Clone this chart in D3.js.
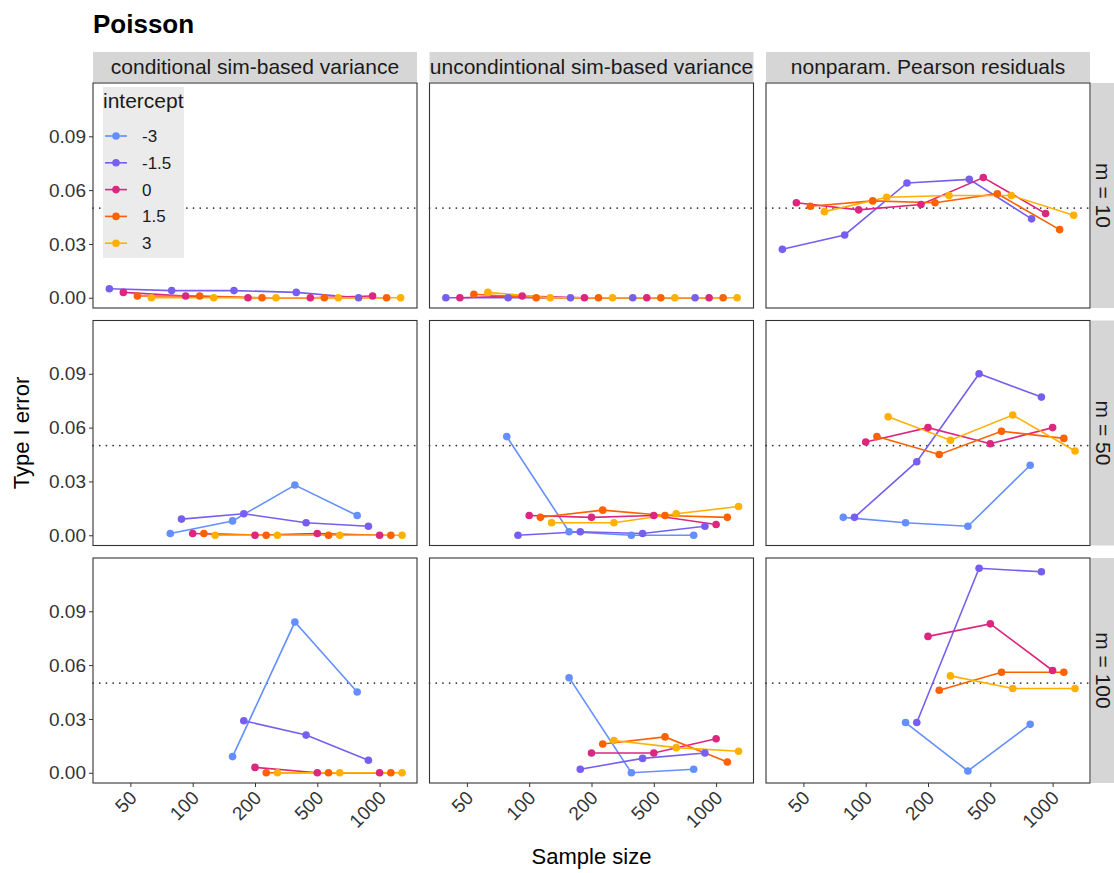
<!DOCTYPE html>
<html>
<head>
<meta charset="utf-8">
<script src="https://cdn.jsdelivr.net/npm/d3@7"></script>
<style>
  body { margin: 0; background: #fff; }
  svg text { font-family: "Liberation Sans", Arial, Helvetica, sans-serif; }
</style>
</head>
<body>
<svg id="chart"></svg>
<script>
// ---- data ----
var sampleSizes = [50, 100, 200, 500, 1000];
var intercepts = ["-3", "-1.5", "0", "1.5", "3"];
var methods = ["conditional sim-based variance", "uncondintional sim-based variance", "nonparam. Pearson residuals"];
var mLabels = ["m = 10", "m = 50", "m = 100"];
var yTicks = [0, 0.03, 0.06, 0.09];
var nominalLevel = 0.05;

// one row per intercept (-3 .. 3), one column per sample size; null = no result
var condM10 = [
  [null, null, null, null, null],
  [0.005, 0.004, 0.004, 0.003, 0],
  [0.003, 0.001, 0, 0, 0.001],
  [0.001, 0.001, 0, 0, 0],
  [0, 0, 0, 0, 0]];
var uncondM10 = [
  [null, null, null, null, null],
  [0, 0, 0, 0, 0],
  [0, 0.001, 0, 0, 0],
  [0.002, 0, 0, 0, 0],
  [0.003, 0, 0, 0, 0]];
var pearsonM10 = [
  [null, null, null, null, null],
  [0.027, 0.035, 0.064, 0.066, 0.044],
  [0.053, 0.049, 0.052, 0.067, 0.047],
  [0.051, 0.054, 0.053, 0.058, 0.038],
  [0.048, 0.056, 0.057, 0.057, 0.046]];
var condM50 = [
  [null, 0.001, 0.008, 0.028, 0.011],
  [null, 0.009, 0.012, 0.007, 0.005],
  [null, 0.001, 0, 0.001, 0],
  [null, 0.001, 0, 0, 0],
  [null, 0, 0, 0, 0]];
var uncondM50 = [
  [null, 0.055, 0.002, 0, 0],
  [null, 0, 0.002, 0.001, 0.005],
  [null, 0.011, 0.010, 0.011, 0.006],
  [null, 0.010, 0.014, 0.011, 0.010],
  [null, 0.007, 0.007, 0.012, 0.016]];
var pearsonM50 = [
  [null, 0.010, 0.007, 0.005, 0.039],
  [null, 0.010, 0.041, 0.090, 0.077],
  [null, 0.052, 0.060, 0.051, 0.060],
  [null, 0.055, 0.045, 0.058, 0.054],
  [null, 0.066, 0.053, 0.067, 0.047]];
var condM100 = [
  [null, null, 0.009, 0.084, 0.045],
  [null, null, 0.029, 0.021, 0.007],
  [null, null, 0.003, 0, 0],
  [null, null, 0, 0, 0],
  [null, null, 0, 0, 0]];
var uncondM100 = [
  [null, null, 0.053, 0, 0.002],
  [null, null, 0.002, 0.008, 0.011],
  [null, null, 0.011, 0.011, 0.019],
  [null, null, 0.016, 0.020, 0.006],
  [null, null, 0.018, 0.014, 0.012]];
var pearsonM100 = [
  [null, null, 0.028, 0.001, 0.027],
  [null, null, 0.028, 0.114, 0.112],
  [null, null, 0.076, 0.083, 0.057],
  [null, null, 0.046, 0.056, 0.056],
  [null, null, 0.054, 0.047, 0.047]];

var panelData = [
  [condM10, uncondM10, pearsonM10],
  [condM50, uncondM50, pearsonM50],
  [condM100, uncondM100, pearsonM100]];

var colors = ["#648FFF", "#785EF0", "#DC267F", "#FE6100", "#FFB000"];

// ---- layout ----
var W = 1114, H = 873;
var panelW = 324, panelH = 225;
var panelX = [93, 429.5, 766];
var panelY = [83, 320.5, 558];
var stripH = 30, stripW = 26;
var textCol = "#1a1a1a", axisCol = "#333333";
var fontStack = "\"Liberation Sans\", Arial, sans-serif";

var svg = d3.select("#chart").attr("width", W).attr("height", H);

var x = d3.scalePoint().domain(sampleSizes).range([0, panelW]).padding(0.6);
var step = x.step();

var allVals = panelData.flat(3).filter(function(v){ return v != null; });
var yMax = d3.max(allVals), pad = yMax * 0.05;
var y = d3.scaleLinear().domain([-pad, yMax + pad]).range([panelH, 0]);

// title
svg.append("text")
  .attr("x", 93).attr("y", 33)
  .attr("font-size", 26).attr("font-weight", "bold").attr("fill", "#000")
  .text("Poisson");

// column strips
methods.forEach(function(m, c){
  var g = svg.append("g").attr("transform", "translate(" + panelX[c] + "," + (panelY[0] - stripH - 1) + ")");
  g.append("rect").attr("width", panelW).attr("height", stripH).attr("fill", "#d6d6d6");
  g.append("text").attr("x", panelW / 2).attr("y", stripH / 2 + 7)
    .attr("text-anchor", "middle").attr("font-size", 21).attr("fill", textCol).text(m);
});

// row strips
mLabels.forEach(function(m, r){
  var g = svg.append("g").attr("transform", "translate(" + (panelX[2] + panelW + 1) + "," + panelY[r] + ")");
  g.append("rect").attr("width", stripW + 10).attr("height", panelH).attr("fill", "#d6d6d6");
  g.append("text")
    .attr("transform", "translate(" + 5 + "," + (panelH / 2) + ") rotate(90)")
    .attr("text-anchor", "middle").attr("font-size", 21).attr("fill", textCol).text(m);
});

var line = d3.line()
  .x(function(d){ return d.x; })
  .y(function(d){ return y(d.v); });

panelData.forEach(function(rowData, r){
  rowData.forEach(function(vals, c){
    var g = svg.append("g").attr("transform", "translate(" + panelX[c] + "," + panelY[r] + ")");
    g.append("rect").attr("width", panelW).attr("height", panelH).attr("fill", "#fff");

    // dodge the series that are present in this panel
    var present = d3.range(intercepts.length).filter(function(i){
      return vals[i].some(function(v){ return v != null; });
    });
    var n = present.length;

    var series = present.map(function(i, rank){
      var off = step * 0.9 * ((rank + 0.5) / n - 0.5);
      return {
        i: i,
        pts: sampleSizes.map(function(s, j){ return {x: x(s) + off, v: vals[i][j]}; })
          .filter(function(p){ return p.v != null; })
      };
    });

    g.append("line")
      .attr("x1", 0).attr("x2", panelW)
      .attr("y1", y(nominalLevel)).attr("y2", y(nominalLevel))
      .attr("stroke", "#333").attr("stroke-width", 1.7)
      .attr("stroke-dasharray", "0.1,6.6").attr("stroke-linecap", "round");

    g.selectAll(".ln").data(series).enter().append("path")
      .attr("class", "ln")
      .attr("d", function(d){ return line(d.pts); })
      .attr("fill", "none")
      .attr("stroke", function(d){ return colors[d.i]; })
      .attr("stroke-width", 1.6);

    series.forEach(function(s){
      g.selectAll(null).data(s.pts).enter()
        .append("circle")
        .attr("cx", function(p){ return p.x; })
        .attr("cy", function(p){ return y(p.v); })
        .attr("r", 3.8)
        .attr("fill", colors[s.i]);
    });

    g.append("rect").attr("width", panelW).attr("height", panelH)
      .attr("fill", "none").attr("stroke", axisCol).attr("stroke-width", 1.1);

    if (c === 0) {
      var ya = g.append("g").call(d3.axisLeft(y).tickValues(yTicks).tickFormat(d3.format(".2f")).tickSize(4).tickPadding(3));
      ya.select(".domain").remove();
      ya.selectAll("line").attr("stroke", axisCol);
      ya.selectAll("text").attr("font-size", 19).attr("fill", "#333")
        .style("font-family", fontStack);
    }
    if (r === 2) {
      var xa = g.append("g").attr("transform", "translate(0," + panelH + ")")
        .call(d3.axisBottom(x).tickSize(4).tickPadding(3));
      xa.select(".domain").remove();
      xa.selectAll("line").attr("stroke", axisCol);
      xa.selectAll("text").attr("font-size", 19).attr("fill", "#333")
        .style("font-family", fontStack)
        .attr("text-anchor", "end")
        .attr("dy", null).attr("y", 0)
        .attr("transform", "translate(7,16) rotate(-45)");
    }
  });
});

// axis titles
svg.append("text")
  .attr("x", panelX[0] + (panelX[2] + panelW - panelX[0]) / 2).attr("y", 864)
  .attr("text-anchor", "middle").attr("font-size", 22).attr("fill", "#000").text("Sample size");
svg.append("text")
  .attr("transform", "translate(29," + (panelY[0] + (panelY[2] + panelH - panelY[0]) / 2) + ") rotate(-90)")
  .attr("text-anchor", "middle").attr("font-size", 22).attr("fill", "#000").text("Type I error");

// legend inside first panel
var leg = svg.append("g").attr("transform", "translate(" + (panelX[0] + 10) + "," + (panelY[0] + 4) + ")");
leg.append("rect").attr("width", 81).attr("height", 171).attr("fill", "#ebebeb");
leg.append("text").attr("x", 0).attr("y", 21).attr("font-size", 21).attr("fill", textCol).text("intercept");
intercepts.forEach(function(lab, i){
  var ky = 49 + i * 26.8;
  leg.append("line").attr("x1", 2).attr("x2", 24).attr("y1", ky).attr("y2", ky)
    .attr("stroke", colors[i]).attr("stroke-width", 1.6);
  leg.append("circle").attr("cx", 13).attr("cy", ky).attr("r", 3.8).attr("fill", colors[i]);
  leg.append("text").attr("x", 39).attr("y", ky + 6).attr("font-size", 17).attr("fill", textCol).text(lab);
});
</script>
</body>
</html>
